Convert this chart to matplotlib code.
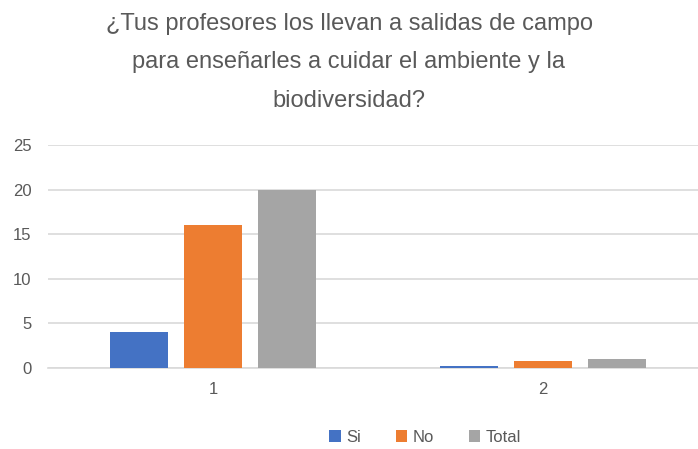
import matplotlib
matplotlib.use("Agg")
import matplotlib.pyplot as plt
import numpy as np

categories = ["1", "2"]
si = [4, 0.2]
no = [16, 0.8]
total = [20, 1]
series_names = ["Si", "No", "Total"]
colors = ["#4472C4", "#ED7D31", "#A5A5A5"]
title = "¿Tus profesores los llevan a salidas de campo\npara enseñarles a cuidar el ambiente y la\nbiodiversidad?"
yticks = [0, 5, 10, 15, 20, 25]

plt.rcParams['font.family'] = ['Liberation Sans', 'DejaVu Sans']

fig = plt.figure(figsize=(6.98, 4.49), dpi=100)
ax = fig.add_axes([48/698, 1-368/449, 1-48/698, (368-145)/449])

x = np.arange(1, len(categories)+1)
w = 0.176
off = 0.223
for i, (vals, name, c) in enumerate(zip([si, no, total], series_names, colors)):
    ax.bar(x + (i-1)*off, vals, width=w, color=c, label=name, zorder=3)

ax.set_xlim(0.5, 0.5 + 650/330)
ax.set_ylim(0, 25)
ax.set_yticks(yticks)
ax.set_xticks(x)
ax.set_xticklabels(categories)
ax.yaxis.grid(True, color="#D9D9D9", linewidth=1.2, zorder=0)
ax.set_axisbelow(True)
for s in ["top", "right", "left"]:
    ax.spines[s].set_visible(False)
ax.spines["bottom"].set_color("#D9D9D9")
ax.spines["bottom"].set_linewidth(1.2)
ax.tick_params(axis="both", length=0, labelsize=12, labelcolor="#595959")
ax.tick_params(axis="y", pad=12)
ax.tick_params(axis="x", pad=10)

fig.text(349/698, 1-13/449, title, ha="center", va="top", fontsize=17,
         color="#595959", linespacing=1.97)

ax.legend(loc="center", bbox_to_anchor=(425/698, 1-437/449), bbox_transform=fig.transFigure,
          ncol=3, frameon=False, fontsize=12, handlelength=0.7, handleheight=0.7,
          handletextpad=0.3, columnspacing=2.1, labelcolor="#595959")

fig.savefig("out.png", dpi=100)
